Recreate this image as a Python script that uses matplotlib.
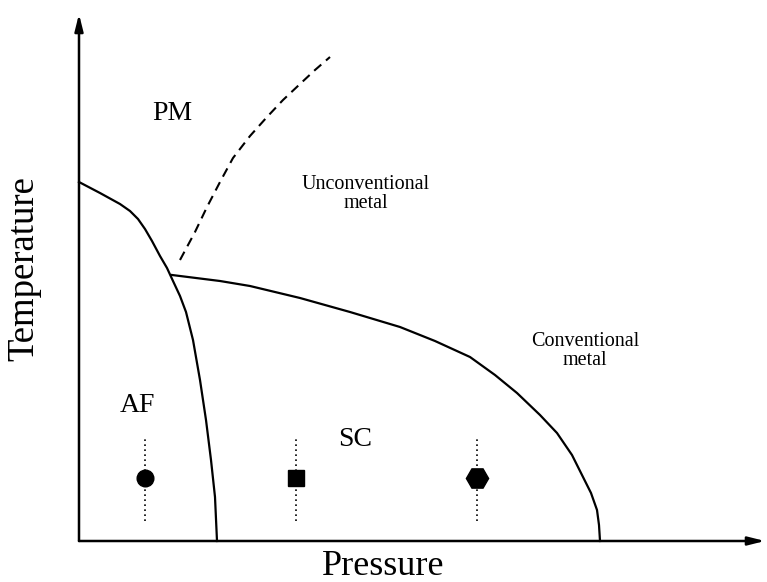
import matplotlib.pyplot as plt

plt.rcParams['font.family'] = ['Liberation Serif', 'DejaVu Serif']

# phase boundaries (pressure, temperature), arbitrary units
af_p = [0, 21, 41, 51, 59, 66, 73, 81, 88, 94, 101, 107, 114, 121, 127, 132, 136, 138]
af_t = [359, 348, 337, 330, 322, 312, 300, 285, 273, 260, 245, 229, 201, 161, 121, 81, 44, 0]

sc_p = [93, 141, 171, 221, 271, 321, 356, 391, 416, 438, 461, 478, 493, 504, 512, 518, 520, 521]
sc_t = [266, 260, 255, 243, 229, 214, 200, 184, 166, 148, 126, 108, 86, 64, 48, 31, 16, 0]

cross_p = [101, 116, 128, 141, 154, 171, 188, 204, 221, 236, 251]
cross_t = [281, 309, 334, 359, 383, 405, 424, 441, 457, 471, 484]

# sample points
pts_p = [66, 217, 398]
pts_t = [63, 63, 63]
pts_m = ['o', 's', 'H']
pts_s = [12, 11.5, 16]
err_lo = 20
err_hi = 104

fig = plt.figure(figsize=(7.67, 5.82), dpi=100)
ax = fig.add_axes([0, 0, 1, 1])
ax.set_xlim(-79, 688)
ax.set_ylim(-41, 541)
ax.axis('off')

# axes with arrows
arr = dict(arrowstyle='-|>,head_length=1.0,head_width=0.25', color='k', lw=1.8,
           shrinkA=0, shrinkB=0)
ax.annotate('', xy=(686, 0), xytext=(0, 0), arrowprops=arr)
ax.annotate('', xy=(0, 527), xytext=(0, 0), arrowprops=arr)

ax.plot(af_p, af_t, color='k', lw=1.6, solid_joinstyle='round')
ax.plot(sc_p, sc_t, color='k', lw=1.6, solid_joinstyle='round')
ax.plot(cross_p, cross_t, color='k', lw=1.5, ls=(0, (4.5, 3)))

for p, t, m, s in zip(pts_p, pts_t, pts_m, pts_s):
    ax.plot([p, p], [err_lo, err_hi], color='k', lw=1.2, ls=(0, (1, 2)))
    ax.plot(p, t, marker=m, ms=s, color='k', ls='none')

ax.text(93, 428, 'PM', fontsize=20, ha='center', va='center')
ax.text(58, 136, 'AF', fontsize=20, ha='center', va='center')
ax.text(276, 101, 'SC', fontsize=20, ha='center', va='center')
ax.text(287, 347, 'Unconventional\nmetal', fontsize=14.5, ha='center', va='center',
        linespacing=1.0)
ax.text(506, 190, 'Conventional\nmetal', fontsize=14.5, ha='center', va='center',
        linespacing=1.0)

ax.text(-55, 272, 'Temperature', fontsize=26.5, rotation=90, ha='center', va='center')
ax.text(304, -34, 'Pressure', fontsize=26, ha='center', va='baseline')

fig.savefig('out.png', dpi=100)
